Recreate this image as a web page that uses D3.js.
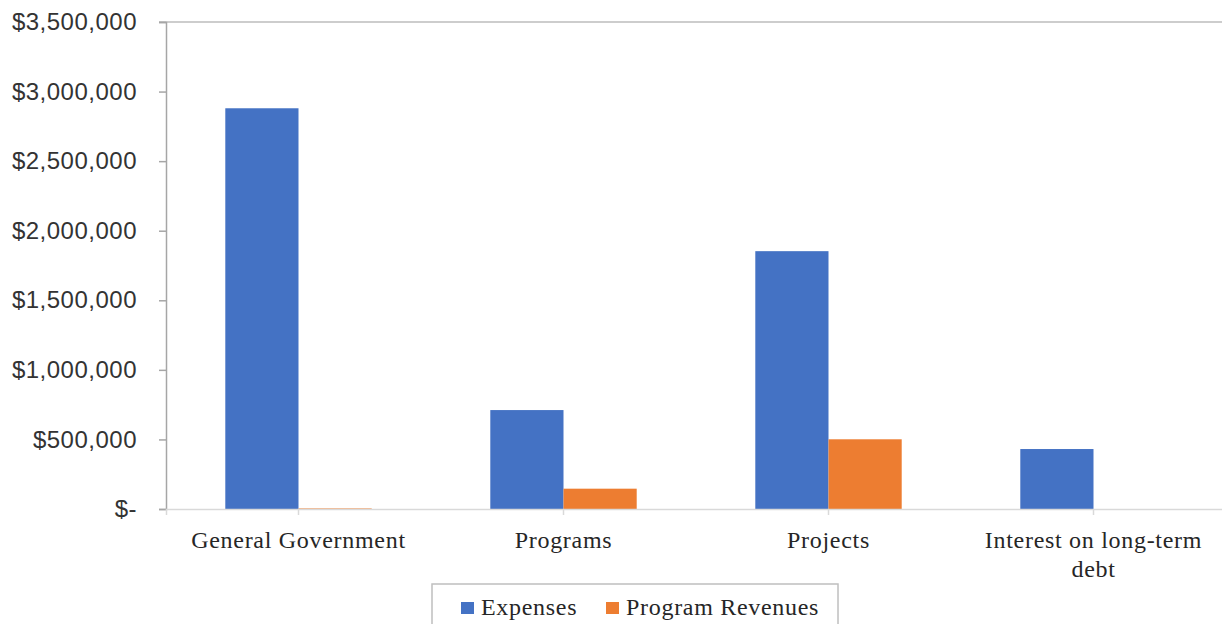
<!DOCTYPE html>
<html>
<head>
<meta charset="utf-8">
<script src="https://cdn.jsdelivr.net/npm/d3@7"></script>
<style>
  body { margin: 0; background: #fff; }
  svg { display: block; }
</style>
</head>
<body>
<div id="chart"></div>
<script>
// chart values
const categories = ["General Government", "Programs", "Projects", "Interest on long-term debt"];
const seriesNames = ["Expenses", "Program Revenues"];
const expenses = [2880000, 711000, 1853000, 431000];
const programRevenues = [4000, 146000, 501000, 0];
const yTicks = [0, 500000, 1000000, 1500000, 2000000, 2500000, 3000000, 3500000];
const colors = ["#4472C4", "#ED7D31"];

const W = 1222, H = 624;
const plot = { left: 166, right: 1226, top: 22, bottom: 509 };

const svg = d3.select("#chart").append("svg")
  .attr("width", W)
  .attr("height", H);

const x0 = d3.scaleBand()
  .domain(categories)
  .range([plot.left, plot.right])
  .padding(0);

const x1 = d3.scaleBand()
  .domain(seriesNames)
  .range([0, x0.bandwidth()])
  .paddingInner(0)
  .paddingOuter(0.81);

const y = d3.scaleLinear()
  .domain([0, 3500000])
  .range([plot.bottom, plot.top]);

// money labels like the Excel accounting format
function money(v) {
  if (v === 0) return "$-";
  return "$" + d3.format(",")(v);
}

// top border line at max
svg.append("line")
  .attr("x1", plot.left - 7).attr("x2", W)
  .attr("y1", y(3500000)).attr("y2", y(3500000))
  .attr("stroke", "#bdbdbd")
  .attr("stroke-width", 1.5);

// y axis
const yAxis = svg.append("g")
  .attr("transform", `translate(${plot.left},0)`)
  .call(d3.axisLeft(y).tickValues(yTicks).tickFormat(money).tickSize(7).tickPadding(22));
yAxis.select(".domain").attr("stroke", "#a6a6a6").attr("stroke-width", 1.5);
yAxis.selectAll(".tick line").attr("stroke", "#a6a6a6").attr("stroke-width", 1.5);
yAxis.selectAll(".tick text")
  .attr("font-family", "'Liberation Sans', Arial, sans-serif")
  .attr("font-size", 24)
  .attr("letter-spacing", 0.5)
  .attr("fill", "#333");

// bars
const rows = categories.map((c, i) => ({ cat: c, values: [expenses[i], programRevenues[i]] }));
const groups = svg.append("g").selectAll("g")
  .data(rows)
  .join("g")
  .attr("transform", d => `translate(${x0(d.cat)},0)`);

groups.selectAll("rect")
  .data(d => d.values.map((v, k) => ({ name: seriesNames[k], value: v, k })))
  .join("rect")
  .attr("x", d => x1(d.name))
  .attr("width", x1.bandwidth())
  .attr("y", d => y(d.value))
  .attr("height", d => y(0) - y(d.value))
  .attr("fill", d => colors[d.k]);

// x axis: ticks at category centres
const xAxis = svg.append("g")
  .attr("transform", `translate(0,${plot.bottom})`)
  .call(d3.axisBottom(x0).tickSize(6).tickFormat(""));
xAxis.select(".domain").attr("stroke", "#d9d9d9").attr("stroke-width", 1.5);
xAxis.selectAll(".tick line").attr("stroke", "#d9d9d9").attr("stroke-width", 1.5);

// category labels, wrapped like the reference
const labelLines = {
  "General Government": ["General Government"],
  "Programs": ["Programs"],
  "Projects": ["Projects"],
  "Interest on long-term debt": ["Interest on long-term", "debt"]
};
const catLabels = svg.append("g").selectAll("text")
  .data(categories)
  .join("text")
  .attr("x", d => x0(d) + x0.bandwidth() / 2)
  .attr("y", 548)
  .attr("text-anchor", "middle")
  .attr("font-family", "'Liberation Serif', 'Times New Roman', serif")
  .attr("font-size", 24)
  .attr("letter-spacing", 0.7)
  .attr("fill", "#262626");
catLabels.selectAll("tspan")
  .data(d => labelLines[d].map(t => ({ t, x: x0(d) + x0.bandwidth() / 2 })))
  .join("tspan")
  .attr("x", d => d.x)
  .attr("dy", (d, i) => i === 0 ? 0 : 29)
  .text(d => d.t);

// legend
const legend = svg.append("g");
legend.append("rect")
  .attr("x", 432).attr("y", 584)
  .attr("width", 406).attr("height", 60)
  .attr("fill", "none")
  .attr("stroke", "#bfbfbf")
  .attr("stroke-width", 1.5);
const legendX = [461, 606];
seriesNames.forEach((name, k) => {
  legend.append("rect")
    .attr("x", legendX[k]).attr("y", 602)
    .attr("width", 13).attr("height", 12)
    .attr("fill", colors[k]);
  legend.append("text")
    .attr("x", legendX[k] + 20).attr("y", 615)
    .attr("font-family", "'Liberation Serif', 'Times New Roman', serif")
    .attr("font-size", 24)
    .attr("letter-spacing", 0.7)
    .attr("fill", "#262626")
    .text(name);
});
</script>
</body>
</html>
